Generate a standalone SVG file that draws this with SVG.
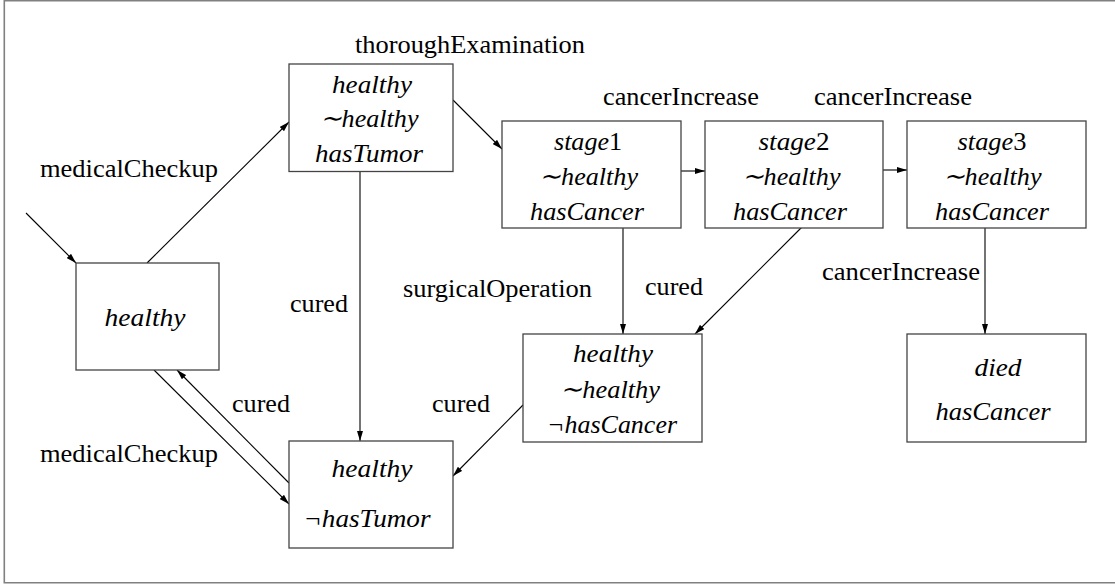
<svg xmlns="http://www.w3.org/2000/svg" width="1115" height="587" viewBox="0 0 1115 587">
<style>
.box{fill:#fff;stroke:#444;stroke-width:1.3}
.frame{fill:none;stroke:#808080;stroke-width:1.6}
text{font-family:'Liberation Serif','Times New Roman',serif;font-size:26px;fill:#000}
.it{font-style:italic;text-anchor:middle}
.up{font-style:normal}
.edge{stroke:#000;stroke-width:1.1;fill:none;marker-end:url(#ah)}
</style>
<defs>
<marker id="ah" viewBox="0 0 10 6" refX="10" refY="3" markerWidth="10" markerHeight="6" markerUnits="userSpaceOnUse" orient="auto">
<path d="M0,0 L10,3 L0,6 Z" fill="#000"/>
</marker>
</defs>
<rect width="1115" height="587" fill="#fff"/>
<path class="frame" d="M1120,0.8 H4.3 V582.7 H1120"/>

<g id="connectors">
<line class="edge" x1="26" y1="213" x2="76" y2="263"/>
<line class="edge" x1="147" y1="263" x2="289" y2="122"/>
<line class="edge" x1="453" y1="100" x2="502" y2="149"/>
<line class="edge" x1="681" y1="171" x2="705" y2="171"/>
<line class="edge" x1="883" y1="170" x2="907" y2="170"/>
<line class="edge" x1="360" y1="172" x2="360" y2="441"/>
<line class="edge" x1="623" y1="228" x2="623" y2="334"/>
<line class="edge" x1="802" y1="227" x2="695" y2="334"/>
<line class="edge" x1="985" y1="227" x2="985" y2="334"/>
<line class="edge" x1="523" y1="405" x2="453" y2="476"/>
<line class="edge" x1="154" y1="370" x2="289" y2="504"/>
<line class="edge" x1="289" y1="483" x2="177" y2="370"/>
</g>

<g id="labels">
<text x="355" y="53" textLength="230" lengthAdjust="spacingAndGlyphs">thoroughExamination</text>
<text x="40" y="177" textLength="178" lengthAdjust="spacingAndGlyphs">medicalCheckup</text>
<text x="40" y="462" textLength="178" lengthAdjust="spacingAndGlyphs">medicalCheckup</text>
<text x="603" y="105" textLength="156" lengthAdjust="spacingAndGlyphs">cancerIncrease</text>
<text x="814" y="105" textLength="158" lengthAdjust="spacingAndGlyphs">cancerIncrease</text>
<text x="822" y="280" textLength="158" lengthAdjust="spacingAndGlyphs">cancerIncrease</text>
<text x="403" y="297" textLength="189" lengthAdjust="spacingAndGlyphs">surgicalOperation</text>
<text x="290" y="312" textLength="58" lengthAdjust="spacingAndGlyphs">cured</text>
<text x="645" y="295" textLength="58" lengthAdjust="spacingAndGlyphs">cured</text>
<text x="232" y="412" textLength="58" lengthAdjust="spacingAndGlyphs">cured</text>
<text x="432" y="412" textLength="58" lengthAdjust="spacingAndGlyphs">cured</text>
</g>

<g id="n-healthy">
<rect class="box" x="76" y="263" width="143" height="107"/>
<text class="it" x="145" y="326" textLength="81" lengthAdjust="spacingAndGlyphs">healthy</text>
</g>

<g id="n-tumor">
<rect class="box" x="289" y="64" width="164" height="107.5"/>
<text class="it" x="372" y="93" textLength="80" lengthAdjust="spacingAndGlyphs">healthy</text>
<text class="it" x="369" y="127" textLength="99" lengthAdjust="spacingAndGlyphs">∼healthy</text>
<text class="it" x="369" y="162" textLength="108" lengthAdjust="spacingAndGlyphs">hasTumor</text>
</g>

<g id="n-stage1">
<rect class="box" x="502" y="121" width="179" height="107"/>
<text class="it" x="588" y="150" textLength="68" lengthAdjust="spacingAndGlyphs">stage<tspan class="up">1</tspan></text>
<text class="it" x="588.5" y="185" textLength="99" lengthAdjust="spacingAndGlyphs">∼healthy</text>
<text class="it" x="587" y="220" textLength="114" lengthAdjust="spacingAndGlyphs">hasCancer</text>
</g>

<g id="n-stage2">
<rect class="box" x="705" y="121" width="178" height="107"/>
<text class="it" x="794" y="150" textLength="71" lengthAdjust="spacingAndGlyphs">stage<tspan class="up">2</tspan></text>
<text class="it" x="791" y="185" textLength="99" lengthAdjust="spacingAndGlyphs">∼healthy</text>
<text class="it" x="790" y="220" textLength="114" lengthAdjust="spacingAndGlyphs">hasCancer</text>
</g>

<g id="n-stage3">
<rect class="box" x="907" y="121" width="179" height="107"/>
<text class="it" x="992" y="150" textLength="69" lengthAdjust="spacingAndGlyphs">stage<tspan class="up">3</tspan></text>
<text class="it" x="992" y="185" textLength="99" lengthAdjust="spacingAndGlyphs">∼healthy</text>
<text class="it" x="992" y="220" textLength="114" lengthAdjust="spacingAndGlyphs">hasCancer</text>
</g>

<g id="n-nocancer">
<rect class="box" x="523" y="334" width="179" height="108"/>
<text class="it" x="613" y="362" textLength="80" lengthAdjust="spacingAndGlyphs">healthy</text>
<text class="it" x="610" y="398" textLength="100" lengthAdjust="spacingAndGlyphs">∼healthy</text>
<text class="it" x="612" y="433" textLength="130" lengthAdjust="spacingAndGlyphs">¬hasCancer</text>
</g>

<g id="n-died">
<rect class="box" x="907" y="334" width="179" height="108"/>
<text class="it" x="998" y="376" textLength="47" lengthAdjust="spacingAndGlyphs">died</text>
<text class="it" x="993" y="420" textLength="115" lengthAdjust="spacingAndGlyphs">hasCancer</text>
</g>

<g id="n-notumor">
<rect class="box" x="289" y="441" width="164" height="107"/>
<text class="it" x="372" y="477" textLength="81" lengthAdjust="spacingAndGlyphs">healthy</text>
<text class="it" x="367" y="527" textLength="127" lengthAdjust="spacingAndGlyphs">¬hasTumor</text>
</g>
</svg>
